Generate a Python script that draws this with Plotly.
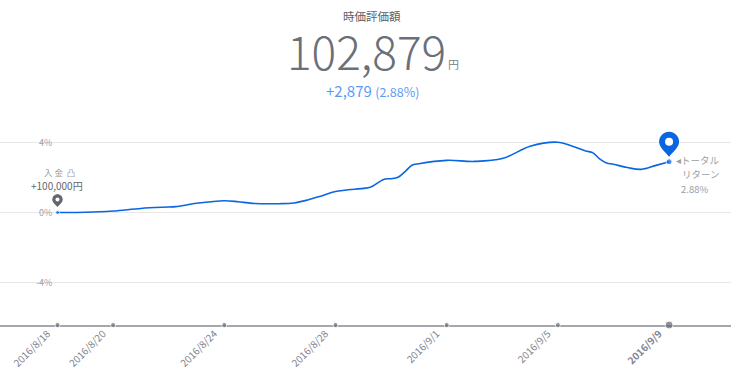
import plotly.graph_objects as go

dates = ["2016-08-18","2016-08-19","2016-08-20","2016-08-21","2016-08-22","2016-08-22 06:00","2016-08-23",
         "2016-08-24","2016-08-24 12:00","2016-08-25","2016-08-26","2016-08-26 12:00","2016-08-27","2016-08-27 12:00",
         "2016-08-28","2016-08-29",
         "2016-08-29 06:00","2016-08-29 18:00","2016-08-30","2016-08-30 06:00","2016-08-30 12:00","2016-08-30 18:00",
         "2016-08-31","2016-09-01","2016-09-02","2016-09-03","2016-09-04",
         "2016-09-05","2016-09-05 12:00","2016-09-06","2016-09-06 06:00","2016-09-06 12:00","2016-09-06 18:00",
         "2016-09-07","2016-09-07 12:00","2016-09-08","2016-09-08 12:00","2016-09-09"]
returns = [0.0,0.01,0.08,0.23,0.31,0.33,0.52,
           0.67,0.61,0.52,0.5,0.54,0.71,0.94,
           1.19,1.37,
           1.43,1.89,1.92,2.0,2.32,2.68,
           2.77,2.96,2.9,3.06,3.76,
           3.99,3.78,3.49,3.40,3.04,2.81,
           2.74,2.55,2.45,2.66,2.88]
tick_dates = ["2016-08-18","2016-08-20","2016-08-24","2016-08-28","2016-09-01","2016-09-05","2016-09-09"]
tick_labels = ["2016/8/18","2016/8/20","2016/8/24","2016/8/28","2016/9/1","2016/9/5","<b>2016/9/9</b>"]
y_ticks = [4, 0, -4]
y_labels = ["4%", "0%", "-4%"]

FONT = "Noto Sans CJK JP"
BLUE = "#0a66e0"
GRAY = "#9a9ea6"
DARK = "#62666e"
AXIS_MIN, AXIS_MAX = -6.39, 5.82
PLOT_TOP, PLOT_BOTTOM = 110, 325

def py(v):
    return (PLOT_BOTTOM - v) / (PLOT_BOTTOM - PLOT_TOP)

fig = go.Figure()
fig.add_trace(go.Scatter(x=dates, y=returns, mode="lines",
    line=dict(color=BLUE, width=1.6, shape="spline", smoothing=1), hoverinfo="skip"))
fig.add_trace(go.Scatter(x=[dates[0], dates[-1]], y=[returns[0], returns[-1]], mode="markers",
    marker=dict(color=BLUE, size=[4, 6]), hoverinfo="skip"))
fig.add_trace(go.Scatter(x=tick_dates, y=[AXIS_MIN]*len(tick_dates), mode="markers", cliponaxis=False,
    marker=dict(color=DARK, size=[5,5,5,5,5,5,8]), hoverinfo="skip"))

def pin(x, y, r, color, gap, hole, depth):
    tip = gap
    cy = tip + depth
    k = r * 0.55
    outer = (f"M 0 {tip} C {-0.3*r} {tip+0.4*r} {-r} {cy-0.6*r} {-r} {cy} "
             f"C {-r} {cy+k} {-k} {cy+r} 0 {cy+r} C {k} {cy+r} {r} {cy+k} {r} {cy} "
             f"C {r} {cy-0.6*r} {0.3*r} {tip+0.4*r} 0 {tip} Z")
    fig.add_shape(type="path", xref="x", yref="y", xsizemode="pixel", ysizemode="pixel",
                  xanchor=x, yanchor=y, path=outer, fillcolor=color, line_width=0, layer="above")
    fig.add_shape(type="circle", xref="x", yref="y", xsizemode="pixel", ysizemode="pixel",
                  xanchor=x, yanchor=y, x0=-hole, x1=hole, y0=cy-hole, y1=cy+hole,
                  fillcolor="white", line_width=0, layer="above")

pin(dates[0], returns[0], 5.2, DARK, 5.5, 2.0, 7.5)
pin(dates[-1], returns[-1], 10, BLUE, 5, 4, 15)

ann = []
def text(t, x, y, size, color, weight=None):
    ann.append(dict(text=t, x=x, y=py(y), xref="x domain", yref="paper", xanchor="center", yanchor="middle",
                    showarrow=False, font=dict(family=FONT, size=size, color=color, weight=weight)))

text("時価評価額", 372/731, 16, 11.5, "#5a5e66")
text("102,879", 366/731, 50, 46, "#6a6f78", 300)
text("円", 453/731, 64, 11, "#7a7e86")
ann.append(dict(text='+2,879 <span style="font-size:12.5px">(2.88%)</span>', x=372/731, y=py(90),
                xref="x domain", yref="paper", xanchor="center", yanchor="middle", showarrow=False,
                font=dict(family=FONT, size=15, color="#5b9bf5")))

for v, lab in zip(y_ticks, y_labels):
    ann.append(dict(text=lab, x=dates[0], y=v, xref="x", yref="y", xanchor="right", yanchor="middle",
                    xshift=-3, showarrow=False, font=dict(family=FONT, size=9, color=GRAY)))

text("入 金  凸", 59/731, 172, 8.5, GRAY)
text("+100,000円", 57/731, 185, 10, DARK)
text("◂トータル", 698/731, 160, 9.5, GRAY)
text("リターン", 701/731, 174, 9.5, GRAY)
text("2.88%", 694/731, 189, 9.5, GRAY)

fig.update_layout(
    width=731, height=379, autosize=False,
    margin=dict(l=0, r=0, t=PLOT_TOP, b=379-PLOT_BOTTOM),
    paper_bgcolor="white", plot_bgcolor="white", showlegend=False,
    annotations=ann,
    xaxis=dict(type="date", range=["2016-08-15 22:22", "2016-09-11 05:27"],
               tickmode="array", tickvals=tick_dates, ticktext=tick_labels, tickangle=-45,
               ticklabelshift=-10, ticklabelstandoff=-3,
               showgrid=False, zeroline=False, ticks="", showline=True, linecolor="#a4a7ad", linewidth=2,
               layer="below traces", tickfont=dict(family=FONT, size=10, color="#7f8490")),
    yaxis=dict(range=[AXIS_MIN, AXIS_MAX], tickmode="array", tickvals=y_ticks, showticklabels=False,
               showgrid=True, gridcolor="#e8e8ea", gridwidth=1, zeroline=False, ticks=""),
)
fig.write_html("out.html", default_width="731px", default_height="379px",
               config={"displayModeBar": False},
               post_script="document.body.style.margin='0';document.body.style.overflow='hidden';")
